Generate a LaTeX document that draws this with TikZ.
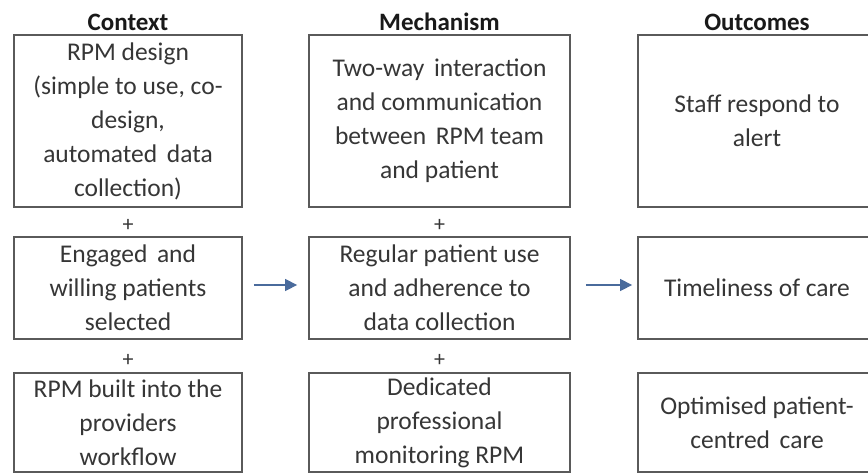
\documentclass[tikz,border=0pt]{standalone}
\usepackage{fontspec}
\setmainfont{Carlito}
\usetikzlibrary{arrows.meta}
\definecolor{boxline}{HTML}{5A5A5A}
\definecolor{bodytext}{HTML}{363636}
\definecolor{arrowblue}{HTML}{4A6B9C}
\tikzset{
  cellbox/.style={draw=boxline, line width=1.8pt, rectangle, inner sep=0pt,
    align=center, text=bodytext, font=\fontsize{25.5}{34}\selectfont},
  colhead/.style={font=\bfseries\fontsize{25}{30}\selectfont, text=black!90, inner sep=0pt},
  plussign/.style={font=\fontsize{22}{24}\selectfont, text=bodytext, inner sep=0pt},
  flow/.style={draw=arrowblue, line width=1.3pt,
    -{Triangle[length=12pt,width=12pt,fill=arrowblue]}}
}
\begin{document}
\begin{tikzpicture}[x=1pt,y=-1pt]
\useasboundingbox (0,0) rectangle (868,475);
\fill[white] (0,0) rectangle (868,475);
\clip (0,0) rectangle (868,475);

% column headings
\node[colhead] (hc) at (128,22) {Context};
\node[colhead] (hm) at (439.5,22) {Mechanism};
\node[colhead] (ho) at (757,22) {Outcomes};

% context column
\node[cellbox, minimum width=228pt, minimum height=172pt] (c1) at (128,121)
  {RPM design\\(simple to use, co-\\design,\\automated\hspace{0.15em} data\\collection)};
\node[cellbox, minimum width=228pt, minimum height=102pt] (c2) at (128,288)
  {Engaged\hspace{0.15em} and\\willing patients\\selected};
\node[cellbox, minimum width=228pt, minimum height=99pt] (c3) at (128,422.5)
  {RPM built into the\\providers\\workflow};

% mechanism column
\node[cellbox, minimum width=261pt, minimum height=172pt] (m1) at (439.5,121)
  {Two-way\hspace{0.15em} interaction\\and communication\\between\hspace{0.15em} RPM team\\and patient};
\node[cellbox, minimum width=261pt, minimum height=102pt] (m2) at (439.5,288)
  {Regular patient use\\and adherence to\\data collection};
\node[cellbox, minimum width=261pt, minimum height=99pt] (m3) at (439.5,422.5)
  {Dedicated\\professional\\monitoring RPM};

% outcomes column
\node[cellbox, minimum width=238pt, minimum height=172pt] (o1) at (757,121)
  {Staff respond to\\alert};
\node[cellbox, minimum width=238pt, minimum height=102pt] (o2) at (757,288)
  {Timeliness of care};
\node[cellbox, minimum width=238pt, minimum height=99pt] (o3) at (757,422.5)
  {\raisebox{-5pt}{\parbox{238pt}{\centering Optimised patient-\\centred\hspace{0.15em} care}}};

% plus signs between stacked boxes
\node[plussign] (pc1) at (128,225) {+};
\node[plussign] (pc2) at (128,360) {+};
\node[plussign] (pm1) at (439.5,225) {+};
\node[plussign] (pm2) at (439.5,360) {+};

% flow arrows
\draw[flow, shorten <=11pt, shorten >=11pt] ([yshift=3pt]c2.east) -- ([yshift=3pt]m2.west);
\draw[flow, shorten <=15pt, shorten >=5pt] ([yshift=3pt]m2.east) -- ([yshift=3pt]o2.west);
\end{tikzpicture}
\end{document}
